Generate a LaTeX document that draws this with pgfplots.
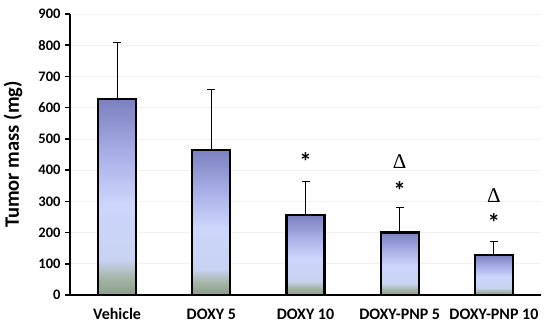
\documentclass[border=0pt]{standalone}
\usepackage{fontspec}
\setmainfont{Carlito}
\newfontfamily\tms{Liberation Serif}
\usepackage{pgfplots}
\pgfplotsset{compat=1.18}
\usetikzlibrary{calc}
\definecolor{c0}{HTML}{8A9E88}
\definecolor{c1}{HTML}{A3B3A2}
\definecolor{c2}{HTML}{C8D3F2}
\definecolor{c3}{HTML}{CDD6FB}
\definecolor{c4}{HTML}{A9AFE6}
\definecolor{c5}{HTML}{7B80C0}
\pgfdeclareverticalshading{barshade}{100bp}{color(0bp)=(c0); color(25bp)=(c0); color(29bp)=(c1); color(34bp)=(c2); color(48bp)=(c3); color(61bp)=(c4); color(75bp)=(c5); color(100bp)=(c5)}
\begin{document}
\begin{tikzpicture}
\begin{axis}[
  scale only axis, width=471pt, height=281pt,
  xmin=-0.5, xmax=4.5, ymin=0, ymax=900,
  axis lines*=left,
  axis line style={line width=2.6pt, -},
  xtick={0,1,2,3,4},
  xticklabels={Vehicle, DOXY 5, DOXY 10, DOXY-PNP 5, DOXY-PNP 10},
  xticklabel style={font=\fontsize{16}{16}\selectfont\bfseries, yshift=-5pt},
  major x tick style={draw=none},
  ytick={0,100,...,900},
  yticklabels={0,100,200,300,400,500,600,700,800,900},
  yticklabel style={font=\fontsize{14.5}{14.5}\selectfont\bfseries, xshift=-1pt},
  major y tick style={line width=1.6pt, black},
  tick align=outside, major tick length=5pt,
  ymajorgrids, grid style={draw=black!6, line width=0.6pt},
  ylabel={Tumor mass (mg)},
  ylabel style={font=\fontsize{20.5}{20.5}\selectfont\bfseries, at={(axis description cs:-0.121,0.5)}, anchor=center},
  clip=false,
]
\addplot[ybar, bar width=38pt, bar shift=0pt, draw=black, line width=2.2pt, shading=barshade] coordinates {(0,628)};
\addplot[ybar, bar width=38pt, bar shift=0pt, draw=black, line width=2.2pt, shading=barshade] coordinates {(1,464)};
\addplot[ybar, bar width=38pt, bar shift=0pt, draw=black, line width=2.2pt, shading=barshade] coordinates {(2,256)};
\addplot[ybar, bar width=38pt, bar shift=0pt, draw=black, line width=2.2pt, shading=barshade] coordinates {(3,200)};
\addplot[ybar, bar width=38pt, bar shift=0pt, draw=black, line width=2.2pt, shading=barshade] coordinates {(4,127)};
\addplot[draw=none, mark=none,
  error bars/.cd, y dir=plus, y explicit,
  error bar style={draw=black, line width=1.1pt},
  error mark options={rotate=90, mark size=4pt, line width=1.1pt, draw=black}]
  coordinates {(0,628) +- (0,182) (1,464) +- (0,193) (2,256) +- (0,107) (3,200) +- (0,79) (4,127) +- (0,44)};
\node[font=\fontsize{25}{25}\selectfont\bfseries, yshift=-5pt] at (axis cs:2,442) {*};
\node[font=\fontsize{25}{25}\selectfont\bfseries, yshift=-5pt] at (axis cs:3,349) {*};
\node[font=\fontsize{25}{25}\selectfont\bfseries, yshift=-5pt] at (axis cs:4,247) {*};
\node[font=\fontsize{21}{21}\selectfont\tms] at (axis cs:3,426) {Δ};
\node[font=\fontsize{21}{21}\selectfont\tms] at (axis cs:4,320) {Δ};
\end{axis}
\useasboundingbox ($(current axis.south west)+(-70pt,-31pt)$) rectangle ($(current axis.north east)+(9pt,14pt)$);
\end{tikzpicture}
\end{document}
